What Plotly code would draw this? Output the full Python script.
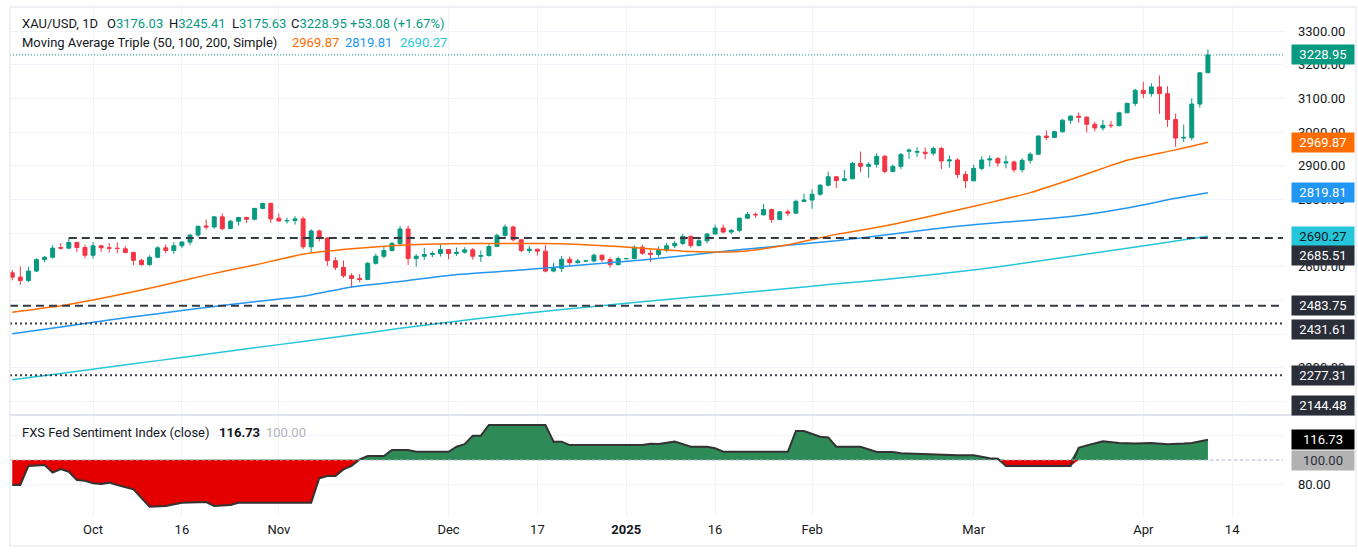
import pandas as pd
import plotly.graph_objects as go
from plotly.subplots import make_subplots

# ---------------- DATA ----------------
DATES = pd.bdate_range("2024-09-17", "2025-04-11")  # trading days shown

OPEN = [2582, 2569, 2559, 2587, 2621, 2628, 2657, 2655, 2672, 2657,
        2634, 2662, 2656, 2655, 2653, 2642, 2619, 2606, 2628, 2656,
        2648, 2662, 2673, 2694, 2721, 2718, 2748, 2713, 2735, 2746,
        2741, 2773, 2788, 2744, 2736, 2737, 2742, 2659, 2706, 2685,
        2618, 2598, 2573, 2565, 2562, 2610, 2631, 2648, 2669, 2712,
        2624, 2631, 2636, 2639, 2651, 2639, 2643, 2650, 2631, 2633,
        2660, 2693, 2718, 2680, 2648, 2652, 2646, 2587, 2595, 2622,
        2612, 2617, 2617, 2634, 2621, 2606, 2624, 2624, 2658, 2640,
        2636, 2649, 2662, 2669, 2690, 2663, 2677, 2697, 2715, 2703,
        2708, 2744, 2755, 2754, 2770, 2740, 2763, 2759, 2794, 2798,
        2815, 2842, 2867, 2856, 2861, 2907, 2898, 2904, 2928, 2883,
        2898, 2943, 2940, 2940, 2937, 2951, 2914, 2917, 2874, 2855,
        2892, 2917, 2921, 2908, 2911, 2888, 2916, 2934, 2988, 2984,
        3001, 3035, 3047, 3044, 3023, 3012, 3020, 3019, 3057, 3085,
        3124, 3114, 3134, 3114, 3037, 2982, 2983, 3083, 3176.03]
HIGH = [2590, 2600, 2599, 2625, 2632, 2664, 2670, 2685, 2674, 2665,
        2673, 2664, 2670, 2672, 2661, 2645, 2623, 2634, 2661, 2666,
        2673, 2676, 2696, 2722, 2740, 2749, 2758, 2739, 2748, 2749,
        2775, 2790, 2790, 2758, 2746, 2750, 2749, 2711, 2710, 2687,
        2628, 2618, 2580, 2578, 2614, 2639, 2660, 2674, 2721, 2722,
        2637, 2656, 2646, 2666, 2652, 2657, 2658, 2655, 2648, 2667,
        2698, 2726, 2722, 2683, 2662, 2653, 2664, 2611, 2632, 2630,
        2623, 2617, 2639, 2637, 2628, 2630, 2624, 2663, 2665, 2650,
        2660, 2670, 2677, 2698, 2693, 2683, 2700, 2725, 2725, 2711,
        2746, 2763, 2761, 2786, 2772, 2765, 2770, 2799, 2817, 2830,
        2845, 2882, 2869, 2887, 2911, 2942, 2910, 2937, 2932, 2904,
        2938, 2951, 2955, 2954, 2956, 2956, 2930, 2922, 2884, 2903,
        2928, 2930, 2926, 2930, 2915, 2922, 2940, 2990, 3005, 3004,
        3038, 3050, 3058, 3047, 3030, 3036, 3033, 3060, 3087, 3128,
        3149, 3145, 3168, 3136, 3055, 3022, 3100, 3177, 3245.41]
LOW = [2560, 2546, 2554, 2584, 2613, 2624, 2651, 2654, 2643, 2625,
       2624, 2644, 2642, 2640, 2640, 2604, 2603, 2603, 2626, 2640,
       2638, 2655, 2664, 2689, 2710, 2713, 2708, 2712, 2722, 2730,
       2738, 2772, 2730, 2733, 2728, 2725, 2652, 2643, 2675, 2602,
       2590, 2567, 2537, 2554, 2561, 2606, 2625, 2645, 2665, 2605,
       2600, 2620, 2628, 2630, 2622, 2632, 2639, 2621, 2614, 2630,
       2658, 2689, 2675, 2643, 2640, 2633, 2583, 2583, 2584, 2603,
       2609, 2617, 2613, 2614, 2597, 2604, 2624, 2622, 2635, 2614,
       2629, 2643, 2655, 2664, 2656, 2660, 2669, 2696, 2699, 2697,
       2702, 2741, 2745, 2752, 2730, 2739, 2750, 2757, 2792, 2772,
       2811, 2838, 2834, 2853, 2860, 2880, 2864, 2894, 2877, 2880,
       2890, 2920, 2926, 2919, 2930, 2890, 2894, 2863, 2833, 2854,
       2886, 2897, 2897, 2892, 2880, 2880, 2906, 2932, 2976, 2982,
       2998, 3024, 3028, 2999, 3002, 3004, 3012, 3016, 3056, 3077,
       3100, 3105, 3054, 3015, 2956, 2970, 2975, 3072, 3175.63]
CLOSE = [2569, 2559, 2587, 2621, 2628, 2655, 2655, 2672, 2657, 2634,
         2662, 2656, 2655, 2654, 2642, 2619, 2606, 2628, 2656, 2648,
         2662, 2673, 2694, 2720, 2718, 2748, 2713, 2735, 2746, 2741,
         2773, 2788, 2742, 2736, 2737, 2742, 2659, 2706, 2685, 2618,
         2598, 2573, 2565, 2562, 2610, 2631, 2648, 2669, 2712, 2624,
         2631, 2636, 2639, 2651, 2639, 2643, 2650, 2631, 2633, 2660,
         2693, 2718, 2680, 2648, 2652, 2646, 2587, 2595, 2622, 2612,
         2617, 2617, 2634, 2621, 2606, 2624, 2624, 2658, 2640, 2636,
         2649, 2662, 2669, 2690, 2663, 2677, 2697, 2715, 2703, 2708,
         2744, 2755, 2754, 2770, 2740, 2763, 2759, 2794, 2798, 2815,
         2842, 2867, 2856, 2861, 2907, 2898, 2904, 2928, 2883, 2898,
         2933, 2946, 2942, 2936, 2951, 2914, 2917, 2874, 2855, 2892,
         2917, 2920, 2908, 2911, 2888, 2916, 2934, 2988, 2984, 3001,
         3035, 3047, 3044, 3023, 3012, 3020, 3019, 3057, 3085, 3124,
         3114, 3134, 3114, 3037, 2982, 2984, 3083, 3175.87, 3228.95]

MA_DATES = ["2024-09-17", "2024-09-25", "2024-10-03", "2024-10-11", "2024-10-21",
            "2024-10-29", "2024-11-06", "2024-11-14", "2024-11-22", "2024-12-02",
            "2024-12-10", "2024-12-18", "2024-12-26", "2025-01-03", "2025-01-13",
            "2025-01-21", "2025-01-29", "2025-02-06", "2025-02-14", "2025-02-24",
            "2025-03-04", "2025-03-12", "2025-03-20", "2025-03-28", "2025-04-07",
            "2025-04-11"]
MA50 = [2465, 2484, 2511, 2541, 2575, 2605, 2637, 2653, 2664, 2668, 2669, 2669, 2664,
        2655, 2645, 2645, 2665, 2696, 2721, 2752, 2785, 2820, 2867, 2916, 2947, 2969.87]
MA100 = [2401, 2421, 2442, 2460, 2479, 2496, 2512, 2540, 2556, 2574, 2585, 2596, 2608,
         2620, 2635, 2650, 2664, 2677, 2694, 2712, 2727, 2738, 2752, 2774, 2803, 2819.81]
MA200 = [2264, 2283, 2302, 2321, 2340, 2359, 2378, 2397, 2417, 2435, 2452, 2468, 2482,
         2496, 2509, 2522, 2535, 2549, 2562, 2577, 2593, 2613, 2634, 2655, 2676, 2690.27]

FED_DATES = ["2024-09-17", "2024-09-18", "2024-09-19", "2024-09-23", "2024-09-24", "2024-09-25",
             "2024-09-26", "2024-09-27", "2024-09-30", "2024-10-01", "2024-10-02", "2024-10-03",
             "2024-10-04", "2024-10-08", "2024-10-10", "2024-10-14", "2024-10-16", "2024-10-21",
             "2024-10-22", "2024-10-24", "2024-10-25", "2024-11-07", "2024-11-08", "2024-11-11",
             "2024-11-12", "2024-11-13", "2024-11-14", "2024-11-15", "2024-11-18", "2024-11-20",
             "2024-11-21", "2024-11-25", "2024-11-26", "2024-12-02", "2024-12-03", "2024-12-04",
             "2024-12-05", "2024-12-06", "2024-12-09", "2024-12-18", "2024-12-19", "2024-12-20",
             "2024-12-23", "2025-01-03", "2025-01-06", "2025-01-07", "2025-01-09", "2025-01-13",
             "2025-01-15", "2025-01-16", "2025-01-17", "2025-01-29", "2025-01-30", "2025-01-31",
             "2025-02-04", "2025-02-05", "2025-02-06", "2025-02-11", "2025-02-13", "2025-02-17",
             "2025-02-18", "2025-02-24", "2025-02-27", "2025-03-03", "2025-03-05", "2025-03-06",
             "2025-03-07", "2025-03-19", "2025-03-20", "2025-03-21", "2025-03-25", "2025-03-27",
             "2025-03-31", "2025-04-02", "2025-04-04", "2025-04-08", "2025-04-09", "2025-04-11"]
FED_VALUES = [79.5, 79.5, 95.1, 95.9, 89.6, 92.6,
              90.4, 83.6, 83.0, 80.8, 80.3, 81.4,
              79.5, 75.9, 61.6, 62.2, 64.9, 65.5,
              62.2, 63.0, 64.9, 64.9, 85.0, 86.9,
              86.9, 92.3, 95.1, 100.5, 103.3, 103.3,
              108.2, 108.2, 106.8, 106.8, 110.9, 113.1,
              120.0, 120.0, 128.8, 128.8, 115.1, 115.1,
              112.3, 112.3, 113.4, 113.1, 115.1, 110.9,
              110.9, 109.6, 106.8, 106.8, 123.8, 123.8,
              119.2, 118.6, 110.9, 110.9, 106.6, 106.6,
              105.5, 104.5, 104.0, 104.0, 101.5, 101.0,
              95.0, 95.0, 110.0, 112.0, 115.5, 114.0,
              113.5, 114.0, 113.0, 113.5, 114.0, 116.73]
FED_BASE = 100.0

LEVELS_DASHED = [2685.51, 2483.75]
LEVELS_DOTTED = [2431.61, 2277.31]
LEVEL_LOW = 2144.48

X_TICKS = ["2024-10-01", "2024-10-16", "2024-11-01", "2024-12-02", "2024-12-17", "2025-01-01",
           "2025-01-16", "2025-02-03", "2025-03-03", "2025-04-01", "2025-04-14"]
X_TICKTEXT = ["Oct", "16", "Nov", "Dec", "17", "<b>2025</b>", "16", "Feb", "Mar", "Apr", "14"]
PRICE_TICKS = list(range(2200, 3301, 100))
PRICE_HIDDEN = [2200, 2500, 2700]          # labels fully covered by value tags
FED_TICKS = [80, 100, 120]
FED_HIDDEN = [100, 120]

# ---------------- STYLE / LAYOUT ----------------
W, H = 1358, 557
ML, MR, MT, MB = 10, 75, 7, 42
PW, PH = W - ML - MR, H - MT - MB
SPLIT = 100 / PH  # lower pane fraction

UP, DOWN = "#089981", "#F23645"
C50, C100, C200 = "#FF6D00", "#2196F3", "#26C6DA"
GRID = "#f0f3fa"
TXT = "#131722"
FONT = "Roboto"

X_RANGE = ["2024-09-16 17:17", "2025-04-20 07:00"]
Y_RANGE = [2159.5, 3371.3]
Y2_RANGE = [54.8, 137.0]


def px(x):
    return (x - ML) / PW


def py(y):
    return (H - MB - y) / PH


weekends = [d.strftime("%Y-%m-%d") for d in pd.date_range("2024-09-07", "2025-04-06")
            if d.weekday() >= 5]

fig = make_subplots(rows=2, cols=1, shared_xaxes=True, vertical_spacing=0,
                    row_heights=[1 - SPLIT, SPLIT])

fig.add_trace(go.Candlestick(
    x=DATES, open=OPEN, high=HIGH, low=LOW, close=CLOSE,
    increasing=dict(line=dict(color=UP, width=1), fillcolor=UP),
    decreasing=dict(line=dict(color=DOWN, width=1), fillcolor=DOWN),
    whiskerwidth=0, hoverinfo="skip"), row=1, col=1)

for vals, col in [(MA200, C200), (MA100, C100), (MA50, C50)]:
    fig.add_trace(go.Scatter(x=MA_DATES, y=vals, mode="lines",
                             line=dict(color=col, width=1.5, shape="spline", smoothing=0.6),
                             hoverinfo="skip"), row=1, col=1)

upper = [max(v, FED_BASE) for v in FED_VALUES]
lower = [min(v, FED_BASE) for v in FED_VALUES]
base = [FED_BASE] * len(FED_VALUES)
fig.add_trace(go.Scatter(x=FED_DATES, y=base, mode="lines", line=dict(width=0),
                         hoverinfo="skip"), row=2, col=1)
fig.add_trace(go.Scatter(x=FED_DATES, y=upper, mode="lines", line=dict(width=0),
                         fill="tonexty", fillcolor="#2e8b57", hoverinfo="skip"), row=2, col=1)
fig.add_trace(go.Scatter(x=FED_DATES, y=base, mode="lines", line=dict(width=0),
                         hoverinfo="skip"), row=2, col=1)
fig.add_trace(go.Scatter(x=FED_DATES, y=lower, mode="lines", line=dict(width=0),
                         fill="tonexty", fillcolor="#e50000", hoverinfo="skip"), row=2, col=1)
fig.add_trace(go.Scatter(x=FED_DATES, y=FED_VALUES, mode="lines",
                         line=dict(color="#333333", width=2), hoverinfo="skip"), row=2, col=1)

fig.update_xaxes(range=X_RANGE, rangebreaks=[dict(values=weekends, dvalue=86400000)],
                 showgrid=True, gridcolor=GRID, gridwidth=1, tickvals=X_TICKS,
                 ticktext=X_TICKTEXT, zeroline=False, showline=False, ticks="",
                 rangeslider=dict(visible=False), ticklabelstandoff=5,
                 tickfont=dict(family=FONT, size=13, color=TXT))
fig.update_xaxes(showticklabels=False, row=1, col=1)
fig.update_xaxes(showticklabels=True, row=2, col=1)

fig.update_yaxes(side="right", range=Y_RANGE, tickvals=PRICE_TICKS,
                 ticktext=["" if v in PRICE_HIDDEN else f"{v:.2f}" for v in PRICE_TICKS],
                 showgrid=True, gridcolor=GRID,
                 zeroline=False, showline=False, ticks="", ticklabelstandoff=14,
                 tickfont=dict(family=FONT, size=13, color=TXT), row=1, col=1)
fig.update_yaxes(side="right", range=Y2_RANGE, tickvals=FED_TICKS,
                 ticktext=["" if v in FED_HIDDEN else f"{v:.2f}" for v in FED_TICKS],
                 showgrid=True, gridcolor=GRID,
                 zeroline=False, showline=False, ticks="", ticklabelstandoff=14,
                 tickfont=dict(family=FONT, size=13, color=TXT), row=2, col=1)

shapes = []
# key levels
for i, lv in enumerate(LEVELS_DASHED):
    x0 = "2024-09-26" if i == 0 else X_RANGE[0]
    shapes.append(dict(type="line", xref="x", yref="y", x0=x0, x1=X_RANGE[1], y0=lv, y1=lv,
                       line=dict(color="#363a45", width=2, dash="8px,5px")))
for lv in LEVELS_DOTTED:
    shapes.append(dict(type="line", xref="x", yref="y", x0=X_RANGE[0], x1=X_RANGE[1], y0=lv, y1=lv,
                       line=dict(color="#363a45", width=2, dash="2px,3px")))
# last price line
shapes.append(dict(type="line", xref="x", yref="y", x0=X_RANGE[0], x1=X_RANGE[1],
                   y0=CLOSE[-1], y1=CLOSE[-1], line=dict(color=UP, width=1, dash="1px,2px")))
# fed baseline
shapes.append(dict(type="line", xref="x2", yref="y2", x0=X_RANGE[0], x1=X_RANGE[1],
                   y0=FED_BASE, y1=FED_BASE, layer="above",
                   line=dict(color="#b2b5be", width=1, dash="3px,3px")))
# pane separator and outer frame
shapes.append(dict(type="line", xref="paper", yref="paper", x0=px(10), x1=px(1356),
                   y0=SPLIT, y1=SPLIT, line=dict(color="#e0e3eb", width=2)))
shapes.append(dict(type="rect", xref="paper", yref="paper", x0=px(10), x1=px(1356),
                   y0=py(546), y1=py(7), line=dict(color="#e0e3eb", width=1)))

ann = []


def txt(x, y, s, color=TXT, size=13):
    ann.append(dict(xref="paper", yref="paper", x=px(x), y=py(y), text=s, showarrow=False,
                    xanchor="left", yanchor="middle", font=dict(family=FONT, size=size, color=color)))


def sp(s, c):
    return f"<span style='color:{c}'>{s}</span>"


chg = CLOSE[-1] - CLOSE[-2]
txt(20, 23, "XAU/USD, 1D")
txt(105, 23, "O" + sp(f"{OPEN[-1]:.2f}", UP))
txt(167, 23, "H" + sp(f"{HIGH[-1]:.2f}", UP))
txt(230, 23, "L" + sp(f"{LOW[-1]:.2f}", UP))
txt(289, 23, "C" + sp(f"{CLOSE[-1]:.2f}", UP))
txt(348, 23, sp(f"+{chg:.2f} (+{chg / CLOSE[-2] * 100:.2f}%)", UP))
txt(20, 43, "Moving Average Triple (50, 100, 200, Simple)")
txt(290, 43, f"{MA50[-1]:.2f}", C50)
txt(343, 43, f"{MA100[-1]:.2f}", C100)
txt(398, 43, f"{MA200[-1]:.2f}", C200)
txt(20, 432, "FXS Fed Sentiment Index (close)")
txt(217, 432, f"<b>{FED_VALUES[-1]:.2f}</b>", "#131722")
txt(264, 432, f"{FED_BASE:.2f}", "#b2b5be")


def box(val, yref, bg, fg, yshift=0, ypos=None):
    d = dict(xref="paper", yref=yref, x=px(1290.5), y=val if ypos is None else ypos,
             text=f"{val:.2f}", showarrow=False, xanchor="left", yanchor="middle",
             yshift=yshift, bgcolor=bg, width=58, height=15, borderpad=2,
             font=dict(family=FONT, size=13, color=fg))
    ann.append(d)


box(CLOSE[-1], "y", UP, "white")
box(MA50[-1], "y", C50, "white")
box(MA100[-1], "y", C100, "white")
box(MA200[-1], "y", C200, TXT)
box(LEVELS_DASHED[0], "y", "#2a2e39", "white", yshift=-18)
box(LEVELS_DASHED[1], "y", "#2a2e39", "white")
box(LEVELS_DOTTED[0], "y", "#2a2e39", "white", yshift=-6)
box(LEVELS_DOTTED[1], "y", "#2a2e39", "white")
# level below the visible price range: tag pinned to the bottom of the price pane
box(LEVEL_LOW, "paper", "#2a2e39", "white", ypos=py(406))
box(FED_VALUES[-1], "y2", "#000000", "white")
box(FED_BASE, "y2", "#b2b2b2", "#2a2e39")

fig.update_layout(width=W, height=H, margin=dict(l=ML, r=MR, t=MT, b=MB),
                  paper_bgcolor="white", plot_bgcolor="white", showlegend=False,
                  shapes=shapes, annotations=ann, font=dict(family=FONT, color=TXT),
                  hovermode=False)

fig.write_html("out.html")
